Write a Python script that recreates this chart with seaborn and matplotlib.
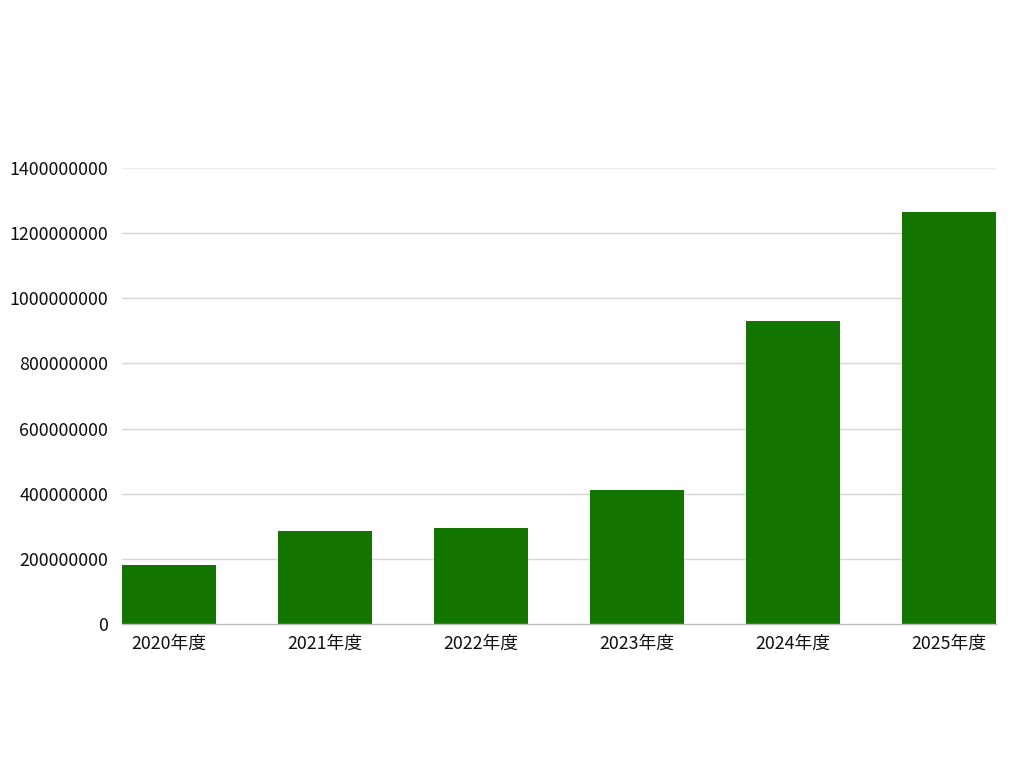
import seaborn as sns
import matplotlib.pyplot as plt
import pandas as pd

years = ['2020年度', '2021年度', '2022年度', '2023年度', '2024年度', '2025年度']
amounts = [180000000, 285000000, 295000000, 411000000, 930000000, 1265000000]
y_ticks = [0, 200000000, 400000000, 600000000, 800000000, 1000000000, 1200000000, 1400000000]

bar_color = '#137400'


def main():
    df = pd.DataFrame({'year': years, 'amount': amounts})

    sns.set_style('white')
    plt.rcParams['font.family'] = ['Noto Sans CJK JP', 'DejaVu Sans']

    fig = plt.figure(figsize=(10.24, 7.68), dpi=100)
    ax = fig.add_axes([122 / 1024, 1 - 624 / 768, 874 / 1024, 456 / 768])

    sns.barplot(data=df, x='year', y='amount', color=bar_color, width=0.6,
                saturation=1, linewidth=0, ax=ax, zorder=3)

    ax.set_xlim(-0.3, len(years) - 0.7)
    ax.set_ylim(0, y_ticks[-1])
    ax.set_yticks(y_ticks)
    ax.set_yticklabels([str(v) for v in y_ticks])

    # gridlines, top one a bit lighter
    for v in y_ticks[1:]:
        c = '#ececec' if v == y_ticks[-1] else '#d6d6d6'
        ax.axhline(v, color=c, lw=1, zorder=1)

    for side in ['top', 'right', 'left']:
        ax.spines[side].set_visible(False)
    ax.spines['bottom'].set_color('#bdbdbd')
    ax.spines['bottom'].set_linewidth(1)
    ax.spines['bottom'].set_zorder(4)

    ax.tick_params(axis='y', length=0, pad=10, labelsize=12.8, colors='#111111')
    ax.tick_params(axis='x', length=0, pad=7.5, labelsize=12.8, colors='#111111')
    ax.set_xlabel('')
    ax.set_ylabel('')

    fig.savefig('out.png', dpi=100)


if __name__ == "__main__":
    main()
